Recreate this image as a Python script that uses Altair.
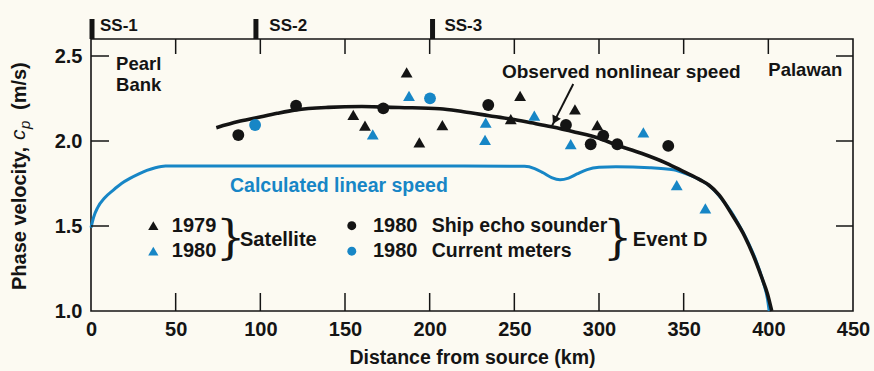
import altair as alt
import pandas as pd

# ---------------- data ----------------
# 1980 ship echo sounder (black circles)
ship_km = [87.0, 121.1, 172.6, 234.6, 280.5, 295.1, 302.5, 310.8, 340.9]
ship_cp = [2.035, 2.208, 2.192, 2.212, 2.094, 1.981, 2.032, 1.981, 1.971]
# 1980 current meters (blue circles)
cm_km = [96.9, 200.2]
cm_cp = [2.094, 2.251]
# 1979 satellite (black triangles)
sat79_km = [154.9, 161.8, 186.4, 193.9, 207.5, 247.9, 253.4, 285.8, 299.0]
sat79_cp = [2.153, 2.090, 2.404, 1.992, 2.094, 2.129, 2.266, 2.186, 2.094]
# 1980 satellite (blue triangles)
sat80_km = [166.4, 187.8, 233.1, 232.7, 261.8, 283.3, 326.2, 345.9, 362.8]
sat80_cp = [2.039, 2.266, 2.108, 2.006, 2.149, 1.981, 2.051, 1.741, 1.604]

# Observed nonlinear speed (black curve)
obs_km = [74, 87, 97, 110, 121, 140, 160, 182, 206, 220, 235, 248, 260, 272,
          286, 300, 310, 325, 340, 350, 360, 365, 371, 379, 386, 391, 396, 399.5, 402]
obs_cp = [2.078, 2.114, 2.135, 2.163, 2.183, 2.198, 2.203, 2.197, 2.190, 2.172,
          2.149, 2.129, 2.107, 2.084, 2.052, 2.016, 1.978, 1.928, 1.869, 1.820,
          1.770, 1.740, 1.682, 1.560, 1.440, 1.330, 1.200, 1.100, 1.000]

# Calculated linear speed (blue curve)
lin_km = [0, 1.5, 4, 8, 13, 18, 23, 28, 33, 38, 44, 100, 200, 256, 262, 267, 272,
          277, 282, 287, 293, 300, 310, 330, 344, 352, 360, 366, 372, 378, 383,
          388, 393, 397, 399.5, 400.5]
lin_cp = [1.49, 1.55, 1.61, 1.665, 1.71, 1.75, 1.78, 1.805, 1.827, 1.843, 1.853,
          1.853, 1.853, 1.851, 1.838, 1.813, 1.785, 1.772, 1.782, 1.806, 1.832,
          1.845, 1.848, 1.843, 1.830, 1.805, 1.770, 1.730, 1.665, 1.585, 1.500,
          1.405, 1.290, 1.170, 1.070, 1.000]

x_labels = [0, 50, 100, 150, 200, 250, 300, 350, 400, 450]
y_labels = [1.0, 1.5, 2.0, 2.5]
top_ticks_km = [50, 100, 150, 200, 250, 300, 350, 400]
bottom_ticks_km = [50, 100, 150, 200, 250, 300, 350]
side_ticks_cp = [1.5, 2.0, 2.5]

ss_names = ["SS-1", "SS-2", "SS-3"]
ss_km = [0.6, 97.4, 201.7]
ss_label_km = [5.3, 105.3, 208.7]
ss_label_cp = [2.676, 2.676, 2.676]

# annotations (data coordinates)
place_text = ["Pearl", "Bank", "Palawan"]
place_km = [14.8, 14.8, 400.0]
place_cp = [2.454, 2.332, 2.415]

obs_label = ["Observed nonlinear speed"]
obs_label_km = [242.7]
obs_label_cp = [2.408]

lin_label = ["Calculated linear speed"]
lin_label_km = [82.1]
lin_label_cp = [1.738]

arrow_km = [284.8]
arrow_cp = [2.335]
arrow_tip_km = [272.4]
arrow_tip_cp = [2.092]
arrowhead_km = [273.9]
arrowhead_cp = [2.122]

# legend (data coordinates)
leg_rows_cp = [1.502, 1.352]
leg_tri_km = [36.8, 36.8]
leg_circ_km = [154.0, 154.0]
leg_year_left = ["1979", "1980"]
leg_year_left_km = [47.7, 47.7]
leg_year_right = ["1980", "1980"]
leg_year_right_km = [166.5, 166.5]
leg_desc = ["Ship echo sounder", "Current meters"]
leg_desc_km = [201.2, 201.2]
leg_group = ["Satellite", "Event D"]
leg_group_km = [88.0, 320.0]
leg_group_cp = [1.42, 1.42]
brace_km = [82.5, 311.0]
brace_cp = [1.425, 1.425]

# ---------------- styling ----------------
W, H = 762, 272
FONT = "Liberation Sans"
BLUE = "#1786c6"
INK = "#141414"
BG = "#fcfaf2"

xs = alt.Scale(domain=[0, 450], nice=False, zero=False)
ys = alt.Scale(domain=[1.0, 2.6], nice=False, zero=False)

x_axis = alt.Axis(values=x_labels, format="d", ticks=False, domain=False, grid=False,
                  labelFlush=False, labelOverlap=False, labelPadding=8,
                  labelFont=FONT, labelFontWeight="bold", labelFontSize=20, labelColor=INK,
                  title="Distance from source (km)", titlePadding=9, titleFont=FONT,
                  titleFontWeight="bold", titleFontSize=19.5, titleColor=INK)
y_axis = alt.Axis(values=y_labels, format=".1f", ticks=False, domain=False, grid=False,
                  labelFlush=False, labelOverlap=False, labelPadding=9,
                  labelFont=FONT, labelFontWeight="bold", labelFontSize=20, labelColor=INK,
                  title=None)


def X(f="x"):
    return alt.X(f"{f}:Q", scale=xs, axis=x_axis)


def Y(f="y"):
    return alt.Y(f"{f}:Q", scale=ys, axis=y_axis)


def df(**cols):
    return pd.DataFrame(cols)


obs_df = df(x=obs_km, y=obs_cp)
lin_df = df(x=lin_km, y=lin_cp)

lin_line = alt.Chart(lin_df).mark_line(color=BLUE, strokeWidth=3, interpolate="monotone").encode(
    x=X(), y=Y())
obs_line = alt.Chart(obs_df).mark_line(color=INK, strokeWidth=3.6, interpolate="monotone").encode(
    x=X(), y=Y())

# inward ticks
top_ticks = alt.Chart(df(x=top_ticks_km)).mark_rule(color=INK, strokeWidth=1.5).encode(
    x=X(), y=alt.value(0), y2=alt.value(15))
bottom_ticks = alt.Chart(df(x=bottom_ticks_km)).mark_rule(color=INK, strokeWidth=1.5).encode(
    x=X(), y=alt.value(H), y2=alt.value(H - 18))
left_ticks = alt.Chart(df(y=side_ticks_cp)).mark_rule(color=INK, strokeWidth=1.5).encode(
    y=Y(), x=alt.value(0), x2=alt.value(18))
right_ticks = alt.Chart(df(y=side_ticks_cp)).mark_rule(color=INK, strokeWidth=1.5).encode(
    y=Y(), x=alt.value(W), x2=alt.value(W - 17))

# SS markers above the frame
ss_bars = alt.Chart(df(x=ss_km)).mark_rule(color=INK, strokeWidth=5).encode(
    x=X(), y=alt.value(0), y2=alt.value(-20))
ss_text = alt.Chart(df(x=ss_label_km, y=ss_label_cp, t=ss_names)).mark_text(
    align="left", baseline="middle", font=FONT, fontWeight="bold", fontSize=17, color=INK
).encode(x=X(), y=Y(), text="t:N")


def pts(xv, yv, shape, color, size):
    return alt.Chart(df(x=xv, y=yv)).mark_point(
        shape=shape, filled=True, size=size, color=color, opacity=1, strokeWidth=0
    ).encode(x=X(), y=Y())


p_ship = pts(ship_km, ship_cp, "circle", INK, 140)
p_cm = pts(cm_km, cm_cp, "circle", BLUE, 140)
p_s79 = pts(sat79_km, sat79_cp, "triangle-up", INK, 140)
p_s80 = pts(sat80_km, sat80_cp, "triangle-up", BLUE, 140)

# annotations
places = alt.Chart(df(x=place_km, y=place_cp, t=place_text)).mark_text(
    align="left", baseline="middle", font=FONT, fontWeight="bold", fontSize=18.5, color=INK
).encode(x=X(), y=Y(), text="t:N")
obs_txt = alt.Chart(df(x=obs_label_km, y=obs_label_cp, t=obs_label)).mark_text(
    align="left", baseline="middle", font=FONT, fontWeight="bold", fontSize=19, color=INK
).encode(x=X(), y=Y(), text="t:N")
lin_txt = alt.Chart(df(x=lin_label_km, y=lin_label_cp, t=lin_label)).mark_text(
    align="left", baseline="middle", font=FONT, fontWeight="bold", fontSize=19.5, color=BLUE
).encode(x=X(), y=Y(), text="t:N")
arrow = alt.Chart(df(x=arrow_km, y=arrow_cp, x2=arrow_tip_km, y2=arrow_tip_cp)).mark_rule(
    color=INK, strokeWidth=2).encode(x=X(), y=Y(), x2="x2:Q", y2="y2:Q")
arrowhead = alt.Chart(df(x=arrowhead_km, y=arrowhead_cp)).mark_point(
    shape="triangle-up", filled=True, size=90, color=INK, opacity=1, angle=207, strokeWidth=0
).encode(x=X(), y=Y())

# legend
leg_tri = alt.Chart(df(x=leg_tri_km, y=leg_rows_cp, c=[INK, BLUE])).mark_point(
    shape="triangle-up", filled=True, size=105, opacity=1, strokeWidth=0
).encode(x=X(), y=Y(), color=alt.Color("c:N", scale=None))
leg_circ = alt.Chart(df(x=leg_circ_km, y=leg_rows_cp, c=[INK, BLUE])).mark_point(
    shape="circle", filled=True, size=80, opacity=1, strokeWidth=0
).encode(x=X(), y=Y(), color=alt.Color("c:N", scale=None))


def legtext(xv, yv, tv, size=20):
    return alt.Chart(df(x=xv, y=yv, t=tv)).mark_text(
        align="left", baseline="middle", font=FONT, fontWeight="bold", fontSize=size, color=INK
    ).encode(x=X(), y=Y(), text="t:N")


leg_t1 = legtext(leg_year_left_km, leg_rows_cp, leg_year_left)
leg_t2 = legtext(leg_year_right_km, leg_rows_cp, leg_year_right)
leg_t3 = legtext(leg_desc_km, leg_rows_cp, leg_desc, 19.5)
leg_t4 = legtext(leg_group_km, leg_group_cp, leg_group)
braces = alt.Chart(df(x=brace_km, y=brace_cp)).mark_text(
    align="center", baseline="middle", font="DejaVu Serif", fontSize=46, color=INK, text="}"
).encode(x=X(), y=Y())

# y-axis title with italic c and subscript p
yt_font = dict(font=FONT, fontWeight="bold", fontSize=20, color=INK, angle=270,
               align="left", baseline="middle")
yt1 = alt.Chart(df(a=[0])).mark_text(text="Phase velocity,", **yt_font).encode(
    x=alt.value(-71), y=alt.value(251))
yt2 = alt.Chart(df(a=[0])).mark_text(text="c", font=FONT, fontStyle="italic", fontSize=21,
                                     color=INK, angle=270, align="left", baseline="middle").encode(
    x=alt.value(-72), y=alt.value(101))
yt3 = alt.Chart(df(a=[0])).mark_text(text="p", font=FONT, fontStyle="italic", fontSize=15,
                                     color=INK, angle=270, align="left", baseline="middle").encode(
    x=alt.value(-66), y=alt.value(90))
yt4 = alt.Chart(df(a=[0])).mark_text(text="(m/s)", **yt_font).encode(
    x=alt.value(-71), y=alt.value(71))

chart = alt.layer(
    lin_line, obs_line,
    top_ticks, bottom_ticks, left_ticks, right_ticks, ss_bars, ss_text,
    p_s80, p_s79, p_cm, p_ship,
    places, obs_txt, lin_txt, arrow, arrowhead,
    leg_tri, leg_circ, leg_t1, leg_t2, leg_t3, leg_t4, braces,
    yt1, yt2, yt3, yt4,
).properties(
    width=W, height=H,
    autosize=alt.AutoSizeParams(type="none"),
    padding={"left": 91, "top": 39, "right": 21, "bottom": 60},
    background=BG,
).configure_view(
    stroke=INK, strokeWidth=1.6
)

chart.save("out.html", embed_options={"renderer": "svg", "actions": False})
